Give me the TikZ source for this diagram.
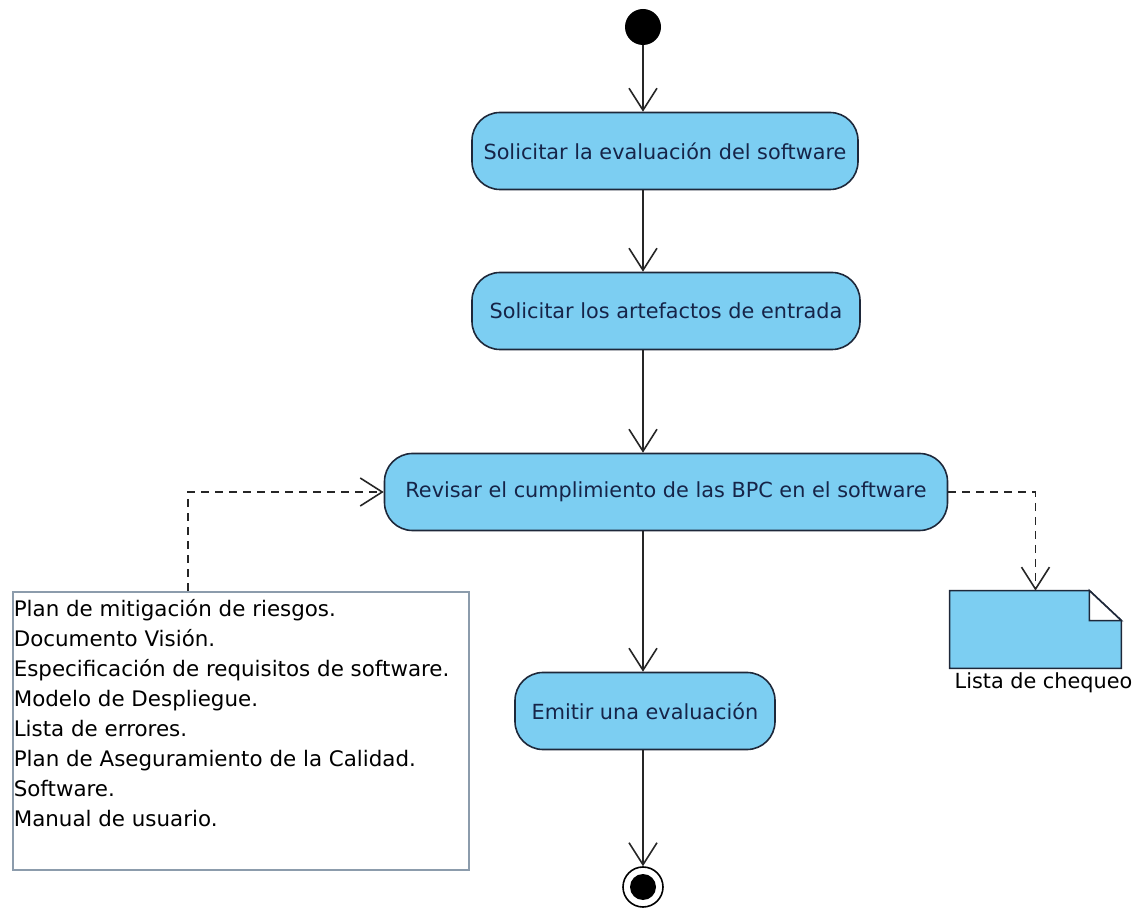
\documentclass[tikz,border=0pt]{standalone}
\usepackage{fontspec}
\setmainfont{DejaVu Sans}
\usetikzlibrary{arrows.meta,positioning}
\definecolor{ActBlue}{RGB}{124,206,242}
\definecolor{ActLine}{RGB}{30,40,58}
\definecolor{ActText}{RGB}{22,36,72}
\definecolor{NoteLine}{RGB}{140,156,172}

\begin{document}
\begin{tikzpicture}[x=0.5pt,y=-0.5pt,font=\fontsize{10.4}{15}\selectfont,
  accion/.style={draw=ActLine,fill=ActBlue,text=ActText,line width=0.8pt,rounded corners=14pt,minimum height=38.5pt,inner sep=0pt},
  flujo/.style={draw=black!85,line width=0.8pt,-{Straight Barb[length=11pt,width=14pt]}},
  depende/.style={flujo,dash pattern=on 4pt off 3pt}]
\useasboundingbox (0,0) rectangle (1137,909);
\node (inicio) [circle,fill=black,minimum size=18pt,inner sep=0pt] at (643,27) {};
\node (sol1) [accion,minimum width=193pt] at (665,151) {Solicitar la evaluación del software};
\node (sol2) [accion,minimum width=194pt] at (666,311) {Solicitar los artefactos de entrada};
\node (revisar) [accion,minimum width=281.5pt] at (666,492) {Revisar el cumplimiento de las BPC en el software};
\node (emitir) [accion,minimum width=130pt] at (645,711) {Emitir una evaluación};
\node (fin) [circle,draw=black,line width=0.8pt,fill=white,minimum size=20pt,inner sep=0pt] at (643,887) {};
\fill (fin) circle (6.5pt);
\node (entradas) [draw=NoteLine,line width=0.8pt,anchor=north west,inner xsep=0.5pt,inner ysep=2pt,font=\fontsize{10.7}{15}\selectfont] at (12,591)
  {\parbox[t][135pt][t]{227pt}{\strut Plan de mitigación de riesgos.\\
   Documento Visión.\\
   Especificación de requisitos de software.\\
   Modelo de Despliegue.\\
   Lista de errores.\\
   Plan de Aseguramiento de la Calidad.\\
   Software.\\
   Manual de usuario.}};
\node (lista) [minimum width=85.5pt,minimum height=38.5pt,inner sep=0pt] at (1035.5,629.5) {};
\filldraw[draw=ActLine,fill=ActBlue,line width=0.8pt] (lista.south west) -- (lista.north west) -- ([xshift=-16pt]lista.north east)
  -- ([yshift=-15pt]lista.north east) -- (lista.south east) -- cycle;
\filldraw[draw=ActLine,fill=white,line width=0.8pt] ([xshift=-16pt]lista.north east) -- ([xshift=-16pt,yshift=-15pt]lista.north east)
  -- ([yshift=-15pt]lista.north east) -- cycle;
\node (listatxt) [below=1pt of lista,xshift=4pt,inner sep=1pt] {Lista de chequeo};
\draw[flujo] (inicio) -- (inicio |- sol1.north);
\draw[flujo] (inicio |- sol1.south) -- (inicio |- sol2.north);
\draw[flujo] (inicio |- sol2.south) -- (inicio |- revisar.north);
\draw[flujo] (inicio |- revisar.south) -- (inicio |- emitir.north);
\draw[flujo] (inicio |- emitir.south) -- (fin);
\draw[depende] ([xshift=88pt]entradas.north west) |- (revisar.west);
\draw[depende] (revisar.east) -| (lista.north);
\end{tikzpicture}
\end{document}
